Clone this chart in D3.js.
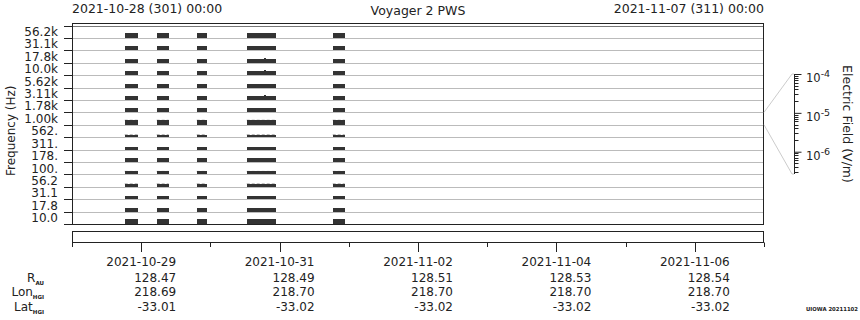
<!DOCTYPE html>
<html><head><meta charset="utf-8">
<script src="https://cdn.jsdelivr.net/npm/d3@7"></script>
<style>
html,body{margin:0;padding:0;background:#fff;}
svg{display:block;font-family:"DejaVu Sans",sans-serif;}
</style></head>
<body><svg id="c" width="860" height="320"></svg>
<script>
// ---------- data ----------
const title = "Voyager 2 PWS";
const startLabel = "2021-10-28 (301) 00:00";
const endLabel = "2021-11-07 (311) 00:00";
const timeStart = "2021-10-28T00:00:00Z";
const timeEnd = "2021-11-07T00:00:00Z";
const channels = ["56.2k","31.1k","17.8k","10.0k","5.62k","3.11k","1.78k","1.00k","562.","311.","178.","100.","56.2","31.1","17.8","10.0"];
// electric field level (V/m) per channel during data segments
const channelLevels = [2.3e-6,2.3e-6,1.8e-6,1.8e-6,1.8e-6,1.8e-6,2.3e-6,2.3e-6,6.9e-7,1.1e-6,1.4e-6,1.1e-6,1.1e-6,1.3e-6,1.55e-6,2.9e-6];
// faint peak levels (V/m), null where none
const peakLevels = [null,null,null,null,null,null,null,3.0e-6,1.1e-6,null,null,1.4e-6,1.4e-6,null,null,null];
// data segments (UTC)
const segStarts = ["2021-10-28T18:17Z","2021-10-29T05:22Z","2021-10-29T19:15Z","2021-10-30T12:36Z","2021-10-31T18:25Z"];
const segEnds   = ["2021-10-28T22:47Z","2021-10-29T09:32Z","2021-10-29T22:43Z","2021-10-30T22:39Z","2021-10-31T22:35Z"];
// short spikes: time, channel index, level
const spikeTimes = ["2021-10-30T18:50Z","2021-10-30T18:50Z","2021-10-30T18:50Z","2021-10-30T18:50Z","2021-10-30T18:50Z"];
const spikeChannels = [0,2,3,5,7];
const spikeLevels = [3.0e-6,2.5e-6,2.5e-6,2.5e-6,3.2e-6];
const fieldMin = 2.67e-7, fieldMax = 1e-4;
const fieldTicks = [1e-4,1e-5,1e-6];
const fieldTickExp = ["-4","-5","-6"];
const dateTicks = ["2021-10-29","2021-10-31","2021-11-02","2021-11-04","2021-11-06"];
const rAU = [128.47,128.49,128.51,128.53,128.54];
const lonHGI = [218.69,218.70,218.70,218.70,218.70];
const latHGI = [-33.01,-33.02,-33.02,-33.02,-33.02];
const footer = "UIOWA 20211102";

// ---------- layout ----------
const svg = d3.select("#c");
const L = 72, R = 764, T = 23, B = 224, bandTop = 25.5;
const ink = "#222", grid = "#bbb", bar = "#333";

const x = d3.scaleUtc().domain([new Date(timeStart), new Date(timeEnd)]).range([L, R]);
const y = d3.scaleBand().domain(channels).range([bandTop, B]).paddingInner(0).paddingOuter(0);
const bw = y.bandwidth();
const h = d3.scaleLog().domain([fieldMin, fieldMax]).range([0, bw]).clamp(true);

// grid lines at band boundaries
const edges = channels.map(c => y(c)).concat([B]);
svg.append("g").selectAll("line").data(edges.slice(1, -1)).join("line")
  .attr("x1", L).attr("x2", R).attr("y1", d => Math.round(d) + 0.5).attr("y2", d => Math.round(d) + 0.5)
  .attr("stroke", grid).attr("stroke-width", 1);
svg.append("line").attr("x1", L).attr("x2", R).attr("y1", Math.round(bandTop)+0.5).attr("y2", Math.round(bandTop)+0.5)
  .attr("stroke", "#777");

// segments x channels
const cells = [];
segStarts.forEach((s, i) => channels.forEach((c, j) => cells.push({s: new Date(s), e: new Date(segEnds[i]), c, v: channelLevels[j], p: peakLevels[j]})));
svg.append("g").selectAll("line").data(cells.filter(d => d.p)).join("line")
  .attr("x1", d => x(d.s)).attr("x2", d => x(d.e))
  .attr("y1", d => y(d.c) + bw - h(d.p) + 0.5).attr("y2", d => y(d.c) + bw - h(d.p) + 0.5)
  .attr("stroke", "#aaa").attr("stroke-width", 1).attr("stroke-dasharray", "3,2");
svg.append("g").selectAll("rect").data(cells).join("rect")
  .attr("x", d => x(d.s)).attr("width", d => x(d.e) - x(d.s))
  .attr("y", d => y(d.c) + bw - h(d.v)).attr("height", d => h(d.v))
  .attr("fill", bar).attr("shape-rendering", "crispEdges");
// spikes
svg.append("g").selectAll("rect").data(spikeTimes.map((t, i) => ({t: new Date(t), c: channels[spikeChannels[i]], v: spikeLevels[i]}))).join("rect")
  .attr("x", d => x(d.t) - 1).attr("width", 2)
  .attr("y", d => y(d.c) + bw - h(d.v)).attr("height", d => h(d.v))
  .attr("fill", bar).attr("shape-rendering", "crispEdges");

// frame
svg.append("rect").attr("x", L + 0.5).attr("y", T + 0.5).attr("width", R - L - 1).attr("height", B - T)
  .attr("fill", "none").attr("stroke", ink);

// left axis ticks at band edges
svg.append("g").selectAll("line").data(edges).join("line")
  .attr("x1", L - 8).attr("x2", L).attr("y1", d => Math.round(d) + 0.5).attr("y2", d => Math.round(d) + 0.5)
  .attr("stroke", ink);
const yAxis = d3.axisLeft(y).tickSize(0).tickPadding(0);
const ga = svg.append("g").attr("transform", `translate(${L - 14},0)`).call(yAxis);
ga.select(".domain").remove();
ga.selectAll("text").attr("font-size", 12).attr("font-family", "DejaVu Sans").attr("fill", ink).attr("dy", "0.36em");

svg.append("text").attr("transform", `translate(15,${(bandTop + B) / 2 + 6}) rotate(-90)`)
  .attr("text-anchor", "middle").attr("font-size", 12).attr("fill", ink).text("Frequency (Hz)");

// top labels
svg.append("text").attr("x", L).attr("y", 12.5).attr("font-size", 12.5).attr("fill", ink).text(startLabel);
svg.append("text").attr("x", R).attr("y", 12.5).attr("text-anchor", "end").attr("font-size", 12.5).attr("fill", ink).text(endLabel);
svg.append("text").attr("x", (L + R) / 2).attr("y", 15).attr("text-anchor", "middle").attr("font-size", 12.5).attr("fill", ink).text(title);

// field scale + connector
const fy = d3.scaleLog().domain([fieldMin, fieldMax]).range([174, 74]);
const fx = 794;
const b7 = channels[7];
svg.append("path").attr("fill", "none").attr("stroke", "#ccc")
  .attr("d", `M${R},${y(b7)}L${fx - 2},${fy(fieldMax)}L${fx},${fy(fieldMax)}M${R},${y(b7) + bw}L${fx - 2},${fy(fieldMin)}L${fx},${fy(fieldMin)}`);
const fAxis = d3.axisRight(fy).tickValues(fieldTicks).tickSize(7).tickFormat("");
const gf = svg.append("g").attr("transform", `translate(${fx + 0.5},0)`).call(fAxis);
gf.select(".domain").attr("stroke", ink).attr("d", `M0,${fy(fieldMax)}V${fy(fieldMin)}`);
gf.selectAll(".tick line").attr("stroke", ink);
const minor = [];
[-7, -6, -5].forEach(e => d3.range(2, 10).forEach(m => { const v = m * Math.pow(10, e); if (v >= fieldMin && v < fieldMax) minor.push(v); }));
gf.append("g").selectAll("line").data(minor).join("line")
  .attr("x1", 0).attr("x2", 4).attr("y1", d => Math.round(fy(d)) + 0.5).attr("y2", d => Math.round(fy(d)) + 0.5).attr("stroke", ink);
const fl = svg.append("g").selectAll("text").data(fieldTicks).join("text")
  .attr("x", fx + 12).attr("y", d => fy(d) + 8).attr("font-size", 11.5).attr("fill", ink);
fl.append("tspan").text("10");
fl.append("tspan").attr("dy", -5).attr("font-size", 9.5).text((d, i) => fieldTickExp[i]);
svg.append("text").attr("transform", `translate(843,124) rotate(90)`)
  .attr("text-anchor", "middle").attr("font-size", 12.5).attr("fill", ink).text("Electric Field (V/m)");

// lower empty box
svg.append("rect").attr("x", L + 0.5).attr("y", 231.5).attr("width", R - L - 1).attr("height", 11)
  .attr("fill", "none").attr("stroke", ink);
// day ticks
const days = x.ticks(d3.utcDay.every(1));
const major = new Set(dateTicks);
const fmt = d3.utcFormat("%Y-%m-%d");
svg.append("g").selectAll("line").data(days).join("line")
  .attr("x1", d => Math.round(x(d)) + 0.5).attr("x2", d => Math.round(x(d)) + 0.5)
  .attr("y1", 242.5).attr("y2", d => major.has(fmt(d)) ? 252 : 247).attr("stroke", ink);

// ephemeris table
const tickX = dateTicks.map(d => x(new Date(d + "T00:00:00Z")));
svg.append("g").selectAll("text").data(dateTicks).join("text")
  .attr("x", (d, i) => tickX[i]).attr("y", 266.3).attr("text-anchor", "middle")
  .attr("font-size", 12).attr("fill", ink).text(d => d);
const rows = [{lab: "R", sub: "AU", vals: rAU, yb: 281.5}, {lab: "Lon", sub: "HGI", vals: lonHGI, yb: 296}, {lab: "Lat", sub: "HGI", vals: latHGI, yb: 310.5}];
rows.forEach(r => {
  svg.append("g").selectAll("text").data(r.vals).join("text")
    .attr("x", (d, i) => tickX[i] + 35).attr("y", r.yb).attr("text-anchor", "end")
    .attr("font-size", 12).attr("fill", ink).text(d => d.toFixed(2));
  const t = svg.append("text").attr("x", 44).attr("y", r.yb).attr("text-anchor", "end").attr("font-size", 12).attr("fill", ink);
  t.append("tspan").text(r.lab);
  t.append("tspan").attr("dy", 3).attr("font-size", 5.5).attr("font-weight", "bold").text(r.sub);
});
svg.append("text").attr("x", 806).attr("y", 311).attr("font-size", 5.5).attr("font-weight", "bold")
  .attr("textLength", 52).attr("lengthAdjust", "spacingAndGlyphs").attr("fill", ink).text(footer);
</script></body></html>
